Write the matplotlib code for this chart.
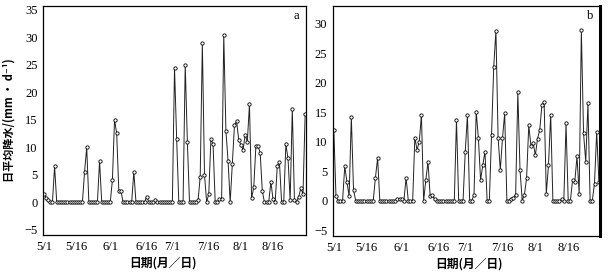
import matplotlib
matplotlib.use("Agg")
import matplotlib.pyplot as plt
import numpy as np

plt.rcParams.update({
    "font.family": ["Liberation Serif", "DejaVu Serif"],
    "font.size": 8.5,
    "axes.linewidth": 0.9,
})

CJK = ["Noto Sans CJK SC", "DejaVu Sans"]

# daily mean precipitation (mm/d), 1 May onwards, one value per day
PRECIP_A = [
    1.5, 0.8, 0.3, 0, 0, 6.5, 0, 0, 0, 0,
    0, 0, 0, 0, 0, 0, 0, 0, 0, 5.5,
    10, 0, 0, 0, 0, 0, 7.5, 0, 0, 0,
    0, 0, 4, 15, 12.5, 2, 2, 0, 0, 0,
    0, 0, 5.5, 0, 0, 0, 0, 0, 1, 0,
    0, 0, 0.3, 0, 0, 0, 0, 0, 0, 0,
    0, 24.5, 11.5, 0, 0, 0, 25, 11, 0, 0,
    0, 0, 0.3, 4.6, 29, 5, 0, 1.5, 11.5, 10.5,
    0, 0, 0.5, 0.5, 30.5, 13, 7.5, 0, 7, 14,
    14.7, 11.3, 10.4, 9.5, 12.2, 11, 17.8, 0.7, 2.7, 10.2,
    10.2, 9, 2, 0, 0, 0, 3.7, 0.5, 0, 6.6,
    7.3, 0, 0, 10.5, 8, 0.3, 17, 0.3, 0, 1,
    2.5, 1.5, 16,
]

PRECIP_B = [
    12, 0.7, 0, 0, 0, 5.8, 3.2, 0.7, 14.2, 1.8,
    0, 0, 0, 0, 0, 0, 0, 0, 0, 3.9,
    7.2, 0, 0, 0, 0, 0, 0, 0, 0, 0.3,
    0.3, 0.2, 0, 3.9, 0, 0, 0, 10.7, 8.6, 10,
    14.5, 0, 3.5, 6.6, 0.7, 1, 0.2, 0, 0, 0,
    0, 0, 0, 0, 0, 0, 13.7, 0, 0, 0,
    8.3, 14.5, 0, 0, 1, 15.1, 10.6, 3.5, 6, 8.3,
    0, 0, 11.1, 22.7, 28.8, 10.6, 5.2, 10.6, 14.8, 0,
    0, 0.3, 0.5, 1, 18.4, 5.2, 0, 1, 3.8, 12.8,
    9.2, 9.8, 7.7, 10.5, 12, 16.2, 16.7, 1.2, 6, 14.6,
    0, 0, 0, 0, 0.2, 0, 13.1, 0, 0, 3.5,
    3.2, 7.5, 1.2, 28.9, 11.4, 6.6, 16.5, 0, 0, 2.9,
    11.7, 3.2,
]

TICK_DAYS = [0, 15, 31, 48, 60, 77, 92, 107]
TICK_LABELS = ["5/1", "5/16", "6/1", "6/16", "7/1", "7/16", "8/1", "8/16"]

fig = plt.figure(figsize=(6.12, 2.73), dpi=100)
ax_a = fig.add_axes([0.0703, 0.139, 0.4297, 0.839])
ax_b = fig.add_axes([0.544, 0.1355, 0.436, 0.8425])


def draw(ax, vals, ylim, yticks, letter, xlab_x):
    x = np.arange(len(vals))
    ax.plot(x, vals, color="#222222", lw=0.7, marker="o", ms=2.4,
            mfc="white", mec="black", mew=0.6)
    ax.set_xlim(-0.4, len(vals) - 0.6)
    ax.set_ylim(*ylim)
    ax.set_yticks(yticks)
    ax.set_yticklabels(["\u2212" + str(-t) if t < 0 else str(t) for t in yticks])
    ax.set_xticks(TICK_DAYS)
    ax.set_xticklabels(TICK_LABELS)
    ax.tick_params(direction="in", length=0, pad=4, labelsize=9)
    ax.text(0.965, 0.955, letter, transform=ax.transAxes, ha="center", va="center", fontsize=9)
    ax.set_xlabel("日期(月／日)", family=CJK, fontsize=8.5, fontweight="bold")
    ax.xaxis.set_label_coords(xlab_x, -0.095)


draw(ax_a, PRECIP_A, (-6, 35.7), list(range(-5, 36, 5)), "a", 0.456)
draw(ax_b, PRECIP_B, (-6, 33), list(range(-5, 31, 5)), "b", 0.51)
ax_b.spines["right"].set_linewidth(2.2)

ax_a.set_ylabel("日平均降水/(mm · d⁻¹)", family=CJK, fontsize=8, fontweight="bold")
ax_a.yaxis.set_label_coords(-0.105, 0.5)

fig.savefig("out.png", dpi=100)
